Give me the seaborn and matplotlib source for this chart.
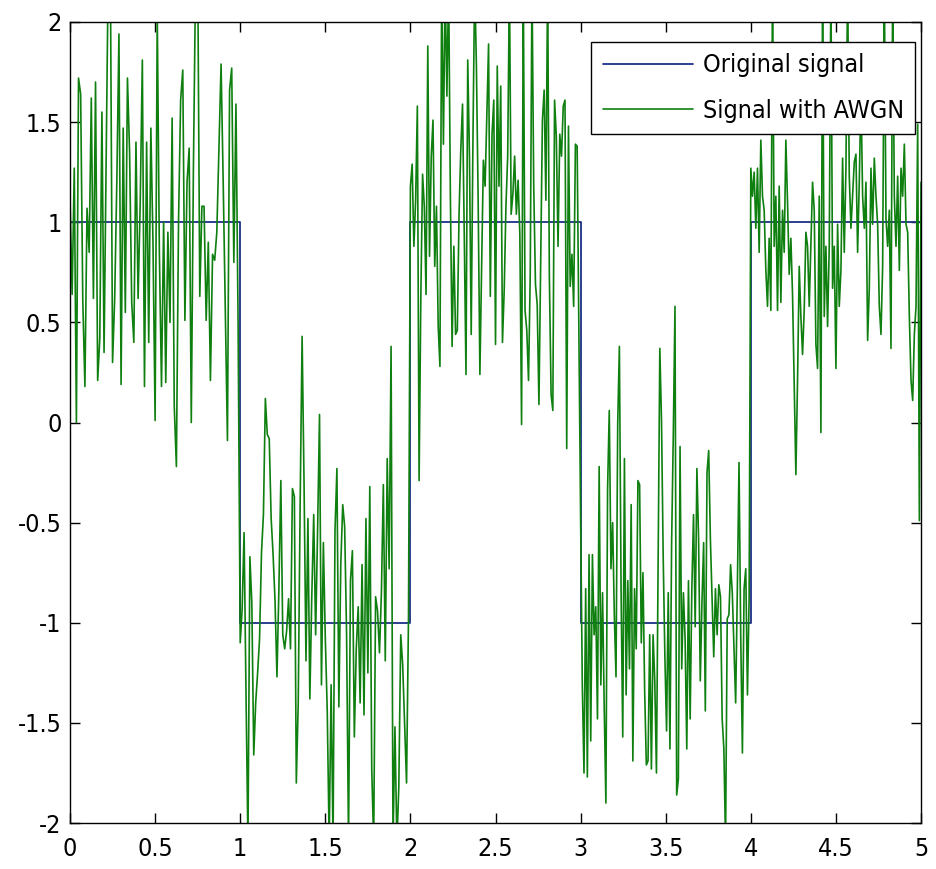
import numpy as np
import pandas as pd
import matplotlib
matplotlib.use("Agg")
import matplotlib.pyplot as plt
import seaborn as sns

# square wave (breakpoints)
orig_t = [0, 1, 1, 2, 2, 3, 3, 4, 4, 5]
orig_y = [1, 1, -1, -1, 1, 1, -1, -1, 1, 1]

# noisy signal, one list per unit interval of t
noisy_0_1 = [
    1.12, 0.64, 1.27, 0.00, 1.72, 1.64, 0.61, 0.18, 1.07, 0.85,
    1.62, 0.62, 1.70, 0.21, 0.42, 1.55, 0.35, 1.30, 2.30, 2.20,
    0.30, 0.62, 1.20, 1.94, 0.19, 1.47, 0.55, 1.72, 1.35, 0.60,
    0.40, 1.40, 0.62, 1.10, 1.81, 0.18, 1.40, 0.40, 1.47, 0.90,
    0.01, 2.05, 0.85, 0.18, 1.00, 0.20, 0.95, 0.50, 1.52, 0.08,
    -0.22, 1.00, 1.61, 1.76, 0.51, 1.20, 1.37, 0.00, 1.27, 2.20,
    2.30, 0.63, 1.08, 1.08, 0.51, 0.90, 0.21, 0.84, 0.81, 0.95,
    1.36, 1.79, 1.20, 0.55, -0.09, 1.66, 1.77, 0.80, 1.59, 0.50,
]
noisy_1_2 = [
    -1.10, -0.93, -0.55, -1.36, -2.10, -0.67, -0.90, -1.66, -1.40, -1.25,
    -1.08, -0.65, -0.46, 0.12, -0.06, -0.08, -0.48, -0.66, -0.89, -1.27,
    -0.83, -0.29, -1.06, -1.13, -1.04, -0.88, -1.13, -0.33, -0.37, -1.80,
    -1.40, -0.39, 0.43, -0.30, -1.19, -0.48, -1.38, -0.87, -0.46, -1.06,
    -0.54, 0.04, -1.31, -0.60, -1.08, -1.44, -2.10, -1.31, -2.10, -0.54,
    -0.23, -1.42, -0.71, -0.41, -0.52, -1.06, -2.10, -0.79, -0.64, -1.57,
    -1.13, -0.92, -1.40, -0.71, -1.46, -0.48, -1.25, -0.32, -1.73, -2.10,
    -0.87, -0.94, -1.15, -0.85, -0.31, -1.19, -0.18, -0.73, 0.38, -2.10,
    -1.52, -2.10, -1.82, -1.06, -1.21, -1.50, -1.80, -0.98,
]
noisy_2_3 = [
    1.18, 1.29, 0.88, 1.11, 1.58, -0.29, 0.63, 1.24, 1.08, 0.64,
    1.88, 0.83, 1.33, 1.51, 0.78, 1.08, 0.48, 0.28, 2.20, 1.39,
    2.20, 1.63, 2.20, 1.14, 0.38, 0.88, 0.44, 0.46, 1.04, 1.36,
    1.59, 0.94, 0.24, 1.81, 1.33, 0.44, 1.41, 2.20, 1.78, 1.11,
    0.24, 0.78, 1.31, 1.18, 1.53, 1.89, 0.63, 1.44, 1.61, 0.39,
    1.78, 1.18, 1.68, 0.40, 0.66, 1.08, 1.33, 2.20, 1.04, 1.14,
    1.33, 1.04, 1.21, 0.94, -0.01, 2.20, 0.56, 0.46, 0.21, 0.74,
    2.20, 1.18, 0.69, 0.59, 0.09, 0.81, 1.51, 1.66, 1.11, 2.20,
    0.73, 0.14, 0.06, 1.61, 1.43, 0.88, 1.44, 1.33, 1.58, 1.61,
    -0.13, 1.48, 0.68, 0.84, 0.58, 1.39, 1.38, 0.44,
]
noisy_3_4 = [
    -0.48, -1.31, -1.75, -0.83, -1.77, -0.66, -1.59, -0.66, -1.06, -0.92,
    -1.48, -0.22, -1.31, -0.85, -1.42, -1.90, -0.33, 0.06, -0.73, -0.50,
    -0.96, -1.27, -0.01, 0.38, -0.83, -1.57, -0.18, -1.36, -0.79, -1.23,
    -0.41, -1.69, -0.83, -1.13, -0.29, -0.31, -1.10, -0.75, -1.34, -1.71,
    -1.69, -1.06, -1.73, -1.06, -1.29, -1.75, -0.69, 0.37, 0.01, -0.67,
    -1.17, -1.54, -0.85, -1.63, -0.60, -0.06, 0.58, -1.86, -1.78, -0.12,
    -1.23, -0.85, -1.08, -1.63, -0.79, -1.48, -0.83, -0.46, -1.02, -0.23,
    -0.58, -1.29, -0.90, -0.60, -1.44, -0.25, -0.14, -0.58, -0.87, -1.17,
    -0.83, -1.06, -0.81, -0.87, -1.48, -1.63, -2.10, -0.98, -0.96, -0.71,
    -0.85, -1.13, -1.40, -0.83, -0.20, -1.06, -1.65, -0.83, -0.73, -1.36,
    -0.87,
]
noisy_4_5 = [
    1.27, 1.13, 1.25, 0.97, 1.27, 0.85, 1.41, 1.13, 1.06, 0.76,
    0.58, 0.92, 0.56, 2.20, 0.88, 1.13, 0.56, 1.18, 0.60, 1.06,
    0.85, 1.41, 1.10, 0.74, 0.92, 0.64, 0.18, -0.26, 0.21, 0.78,
    0.53, 0.34, 0.56, 0.95, 0.88, 0.58, 0.90, 1.20, 1.06, 0.39,
    0.27, 1.13, -0.05, 2.20, 0.53, 0.88, 0.48, 0.88, 2.20, 0.67,
    0.88, 0.27, 0.99, 0.58, 0.76, 1.32, 0.85, 1.27, 2.20, 1.23,
    0.97, 1.13, 1.30, 1.34, 0.85, 1.20, 1.65, 1.13, 0.97, 1.20,
    0.41, 0.67, 1.27, 0.99, 1.32, 1.13, 0.99, 0.58, 0.44, 0.78,
    2.20, 1.02, 0.88, 1.06, 0.37, 2.20, 1.13, 0.88, 1.23, 0.76,
    1.27, 1.13, 1.39, 0.99, 0.95, 0.53, 0.21, 0.11, 0.44, 0.58,
    1.49, -0.49, 1.20,
]

x_ticks = [0, 0.5, 1, 1.5, 2, 2.5, 3, 3.5, 4, 4.5, 5]
x_labels = ["0", "0.5", "1", "1.5", "2", "2.5", "3", "3.5", "4", "4.5", "5"]
y_ticks = [-2, -1.5, -1, -0.5, 0, 0.5, 1, 1.5, 2]
y_labels = ["-2", "-1.5", "-1", "-0.5", "0", "0.5", "1", "1.5", "2"]

segments = [noisy_0_1, noisy_1_2, noisy_2_3, noisy_3_4, noisy_4_5]
t_parts = []
for k, seg in enumerate(segments):
    last = k == len(segments) - 1
    t_parts.append(np.linspace(k, k + 1, len(seg), endpoint=last))
df_noisy = pd.DataFrame({"t": np.concatenate(t_parts), "y": np.concatenate(segments)})
df_orig = pd.DataFrame({"t": orig_t, "y": orig_y})

sns.set_style("ticks")
plt.rcParams["font.family"] = ["DejaVu Sans"]
plt.rcParams["font.stretch"] = "condensed"
plt.rcParams["text.color"] = "black"

COR_AZUL = "#1c2f86"
COR_VERDE = "#0f7f0f"
TAM = 18

fig = plt.figure(figsize=(9.36, 8.69), dpi=100)
ax = fig.add_axes([0.0748, 0.0529, 0.9092, 0.9218])

sns.lineplot(data=df_orig, x="t", y="y", ax=ax, color=COR_AZUL, linewidth=1.3,
             estimator=None, sort=False, label="Original signal", zorder=2)
sns.lineplot(data=df_noisy, x="t", y="y", ax=ax, color=COR_VERDE, linewidth=1.2,
             estimator=None, sort=False, label="Signal with AWGN", zorder=3)

ax.set_xlim(0, 5)
ax.set_ylim(-2, 2)
ax.set_xticks(x_ticks)
ax.set_xticklabels(x_labels)
ax.set_yticks(y_ticks)
ax.set_yticklabels(y_labels)
ax.set_xlabel("")
ax.set_ylabel("")
ax.tick_params(direction="in", top=True, right=True, length=7, width=1,
               labelsize=TAM, colors="black")
ax.tick_params(axis="x", pad=10)
ax.tick_params(axis="y", pad=6)
for sp in ax.spines.values():
    sp.set_visible(True)
    sp.set_color("black")
    sp.set_linewidth(1.0)
    sp.set_zorder(5)

leg = ax.legend(loc="upper right", bbox_to_anchor=(0.993, 0.975), borderaxespad=0,
                fontsize=TAM, handlelength=3.6, handletextpad=0.4, borderpad=0.45,
                labelspacing=0.85, fancybox=False, framealpha=1, edgecolor="black")
leg.get_frame().set_linewidth(1.0)
leg.set_zorder(10)
for txt in leg.get_texts():
    txt.set_color("black")

plt.savefig("out.png", dpi=100)
plt.close()
